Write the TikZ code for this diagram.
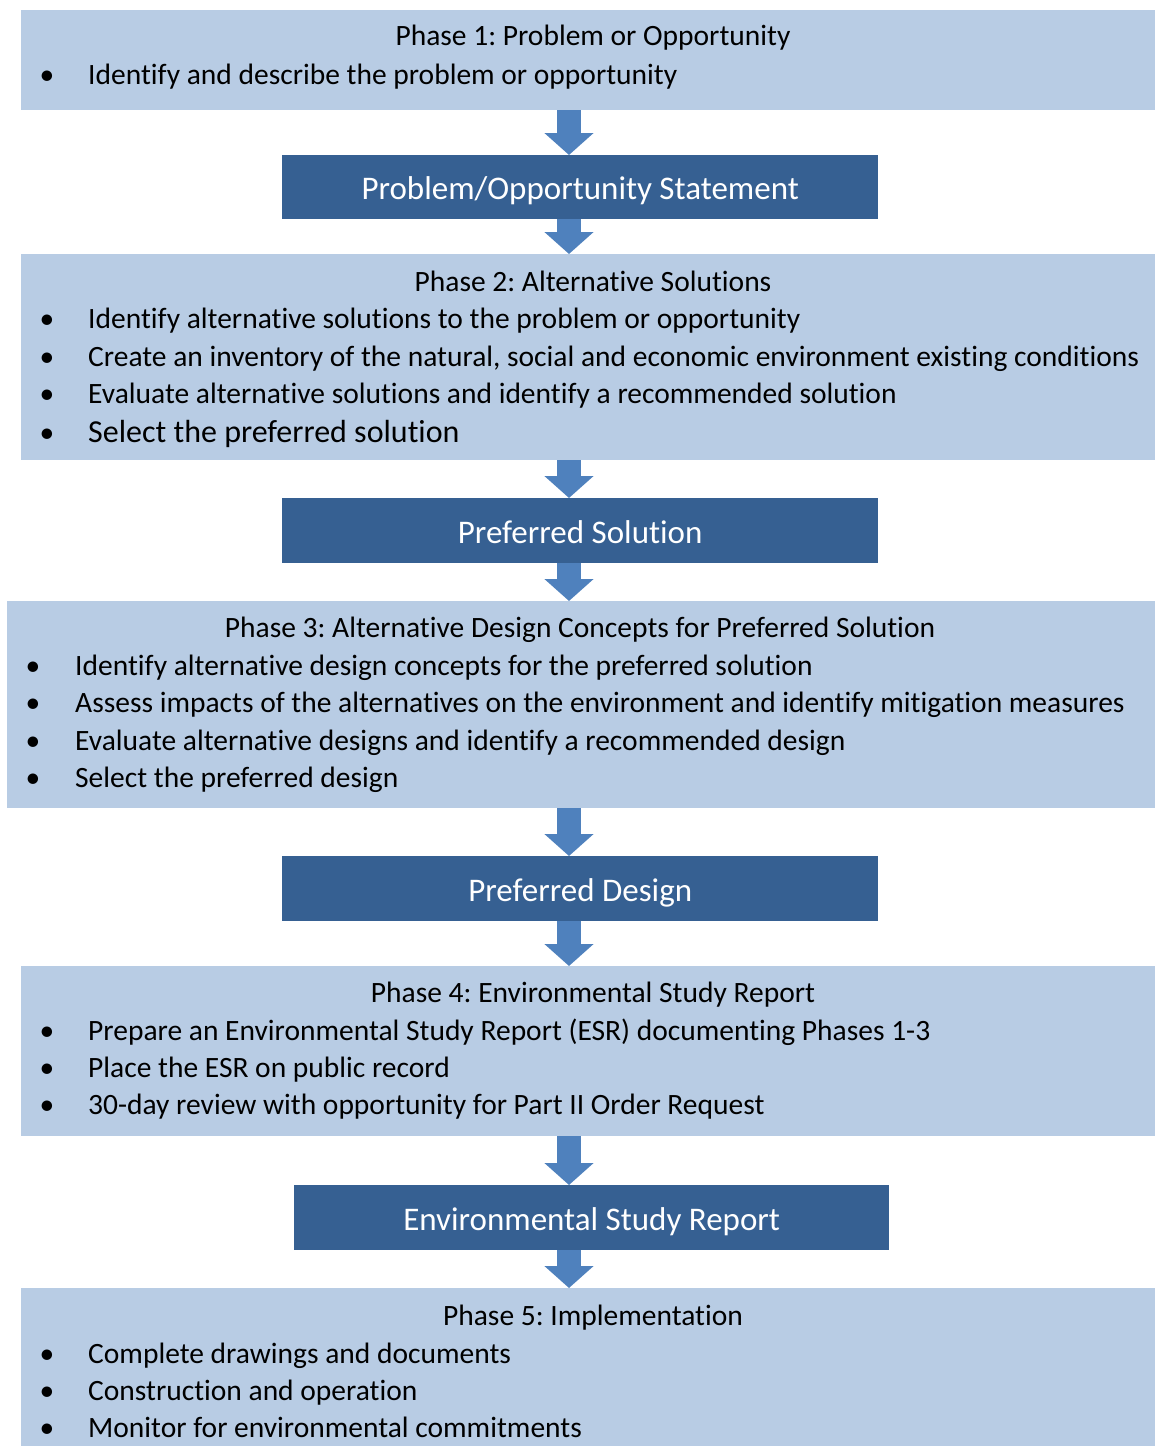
\documentclass[tikz,border=0pt]{standalone}
\usepackage{fontspec}
\setmainfont{Carlito}[Ligatures=NoCommon]
\usetikzlibrary{arrows.meta}
\definecolor{phasefill}{HTML}{B8CCE4}
\definecolor{outfill}{HTML}{366092}
\definecolor{flowblue}{HTML}{4F81BD}
\frenchspacing

\begin{document}
\begin{tikzpicture}[x=1pt,y=-1pt]
    \tikzstyle{phase}=[fill=phasefill, inner sep=0pt, anchor=north west]
    \tikzstyle{output}=[fill=outfill, inner sep=0pt, anchor=north west]
    \tikzstyle{label}=[text=white, inner sep=0pt, anchor=mid, font=\fontsize{33}{40}\selectfont]
    \tikzstyle{title}=[inner sep=0pt, anchor=mid, font=\fontsize{29.5}{35}\selectfont]
    \tikzstyle{item}=[inner sep=0pt, anchor=mid west, font=\fontsize{29.5}{35}\selectfont]
    \tikzstyle{dot}=[inner sep=0pt, anchor=mid, font=\fontsize{29.5}{35}\selectfont]
    \tikzstyle{flow}=[flowblue, line width=24pt, -{Triangle[width=48pt,length=22pt]}]
    \useasboundingbox (0,0) rectangle (1155,1446);
    \coordinate (ax) at (569,0);
    % phases and their outputs
    \node[phase, minimum width=1134, minimum height=100] (p1) at (21,10) {};
    \node[output, minimum width=596, minimum height=64] (o1) at (282,155) {};
    \node[phase, minimum width=1134, minimum height=206] (p2) at (21,254) {};
    \node[output, minimum width=596, minimum height=65] (o2) at (282,498) {};
    \node[phase, minimum width=1148, minimum height=207] (p3) at (7,601) {};
    \node[output, minimum width=596, minimum height=65] (o3) at (282,856) {};
    \node[phase, minimum width=1134, minimum height=170] (p4) at (21,966) {};
    \node[output, minimum width=595, minimum height=65] (o4) at (294,1185) {};
    \node[phase, minimum width=1134, minimum height=158] (p5) at (21,1288) {};
    % texts
    \node[title] (t1) at (593,43) {Phase 1: Problem or Opportunity};
    \node[dot] at (47,82) {•};
    \node[item] (i11) at (88,82) {Identify and describe the problem or opportunity};
    \node[label] (l1) at ([yshift=-10pt]o1.center) {Problem/Opportunity Statement};
    \node[title] (t2) at (593,289) {Phase 2: Alternative Solutions};
    \foreach \y/\txt in {326/Identify alternative solutions to the problem or opportunity,
                         364/{Create an inventory of the natural, social and economic environment existing conditions},
                         401/Evaluate alternative solutions and identify a recommended solution} {
      \node[dot] at (47,\y) {•};
      \node[item] at (88,\y) {\txt};
    }
    \node[dot] at (47,440) {•};
    \node[item, font=\fontsize{32}{38}\selectfont] (i24) at (88,440) {Select the preferred solution};
    \node[label] (l2) at ([yshift=-10pt]o2.center) {Preferred Solution};
    \node[title] (t3) at (580,635) {Phase 3: Alternative Design Concepts for Preferred Solution};
    \foreach \y/\txt in {673/Identify alternative design concepts for the preferred solution,
                         710/Assess impacts of the alternatives on the environment and identify mitigation measures,
                         748/Evaluate alternative designs and identify a recommended design,
                         785/Select the preferred design} {
      \node[dot] at (33,\y) {•};
      \node[item] at (75,\y) {\txt};
    }
    \node[label] (l3) at ([yshift=-10pt]o3.center) {Preferred Design};
    \node[title] (t4) at (593,1000) {Phase 4: Environmental Study Report};
    \foreach \y/\txt in {1038/Prepare an Environmental Study Report (ESR) documenting Phases 1-3,
                         1075/Place the ESR on public record,
                         1112/30-day review with opportunity for Part II Order Request} {
      \node[dot] at (47,\y) {•};
      \node[item] at (88,\y) {\txt};
    }
    \node[label] (l4) at ([yshift=-10pt]o4.center) {Environmental Study Report};
    \node[title] (t5) at (593,1323) {Phase 5: Implementation};
    \foreach \y/\txt in {1361/Complete drawings and documents,
                         1398/Construction and operation,
                         1435/Monitor for environmental commitments} {
      \node[dot] at (47,\y) {•};
      \node[item] at (88,\y) {\txt};
    }
    % arrows
    \draw[flow] (ax |- p1.south) -- (ax |- o1.north);
    \draw[flow] (ax |- o1.south) -- (ax |- p2.north);
    \draw[flow] (ax |- p2.south) -- (ax |- o2.north);
    \draw[flow] (ax |- o2.south) -- (ax |- p3.north);
    \draw[flow] (ax |- p3.south) -- (ax |- o3.north);
    \draw[flow] (ax |- o3.south) -- (ax |- p4.north);
    \draw[flow] (ax |- p4.south) -- (ax |- o4.north);
    \draw[flow] (ax |- o4.south) -- (ax |- p5.north);
\end{tikzpicture}
\end{document}
